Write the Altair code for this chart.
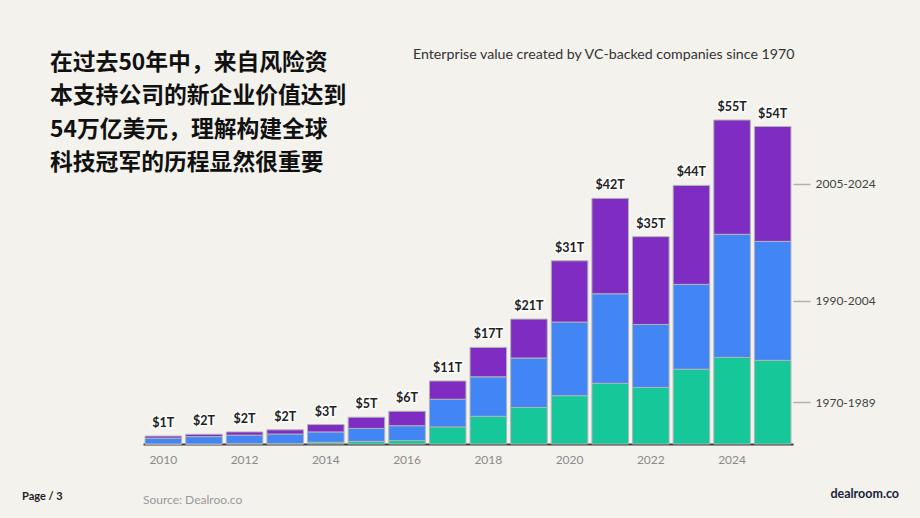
import altair as alt
import pandas as pd

years = [str(y) for y in range(2010, 2026)]
series = ["1970-1989", "1990-2004", "2005-2024"]
colors = ["#16c79a", "#4285f4", "#7e2cc1"]
v_1970_1989 = [0.0, 0.0, 0.05, 0.05, 0.3, 0.45, 0.6, 2.9, 4.7, 6.2, 8.2, 10.3, 9.6, 12.7, 14.7, 14.2]
v_1990_2004 = [1.0, 1.25, 1.45, 1.65, 1.75, 2.2, 2.5, 4.7, 6.7, 8.4, 12.5, 15.2, 10.7, 14.4, 20.9, 20.2]
v_2005_2024 = [0.35, 0.4, 0.55, 0.7, 1.25, 1.9, 2.45, 3.1, 5.0, 6.6, 10.4, 16.2, 14.9, 16.8, 19.4, 19.5]
total_labels = ["$1T", "$2T", "$2T", "$2T", "$3T", "$5T", "$6T", "$11T", "$17T", "$21T",
                "$31T", "$42T", "$35T", "$44T", "$55T", "$54T"]
x_tick_years = ["2010", "2012", "2014", "2016", "2018", "2020", "2022", "2024"]

title_cn = "在过去50年中，来自风险资\n本支持公司的新企业价值达到\n54万亿美元，理解构建全球\n科技冠军的历程显然很重要"
chart_title = "Enterprise value created by VC-backed companies since 1970"

vals = [v_1970_1989, v_1990_2004, v_2005_2024]
rows = []
for si, (s, arr) in enumerate(zip(series, vals)):
    for y, v in zip(years, arr):
        rows.append({"year": y, "series": s, "value": v, "ord": si})
df = pd.DataFrame(rows)

totals = [a + b + c for a, b, c in zip(*vals)]
df_tot = pd.DataFrame({"year": years, "total": totals, "label": total_labels})

# right-side series labels sit at the middle of each segment of the last bar
last = [arr[-1] for arr in vals]
mids = []
acc = 0.0
for v in last:
    mids.append(acc + v / 2)
    acc += v
bounds = [(mids[0] + mids[1]) / 2, (mids[1] + mids[2]) / 2]
label_expr = (f"datum.value < {bounds[0]} ? '{series[0]}' : "
              f"datum.value < {bounds[1]} ? '{series[1]}' : '{series[2]}'")

W, H = 650, 344
YMAX = 58.4

x_enc = alt.X("year:N", sort=years,
              scale=alt.Scale(paddingInner=0.1, paddingOuter=0.05),
              axis=alt.Axis(title=None, values=x_tick_years, labelAngle=0, ticks=False,
                            domainColor="#3a3a3a", domainWidth=2, labelColor="#8a8a8a",
                            labelFont="Lato", labelFontSize=12, labelPadding=10))
y_scale = alt.Scale(domain=[0, YMAX], nice=False)

bars = alt.Chart(df).mark_bar(stroke="#b4b4b4", strokeWidth=1).encode(
    x=x_enc,
    y=alt.Y("value:Q", stack="zero", scale=y_scale,
            axis=alt.Axis(orient="right", title=None, values=mids, labelExpr=label_expr,
                          grid=False, domain=False, tickSize=17, tickColor="#b0b0b0",
                          tickWidth=1.5, labelPadding=5, labelColor="#444444",
                          labelFont="Lato", labelFontSize=12)),
    color=alt.Color("series:N", scale=alt.Scale(domain=series, range=colors), legend=None),
    order=alt.Order("ord:Q", sort="ascending"),
)

base_tot = alt.Chart(df_tot).encode(
    x=alt.X("year:N", sort=years),
    y=alt.Y("total:Q", scale=y_scale),
    text="label:N",
)
halo = base_tot.mark_text(baseline="bottom", dy=-6, font="Lato", fontSize=12.5,
                          fontWeight="bold", stroke="white", strokeWidth=3,
                          strokeOpacity=0.9, fill="white")
labels = base_tot.mark_text(baseline="bottom", dy=-6, font="Lato", fontSize=12.5,
                            fontWeight="bold", color="#222222")

def note(txt, x, y, **kw):
    return alt.Chart(pd.DataFrame({"t": [txt]})).mark_text(**kw).encode(
        x=alt.value(x), y=alt.value(y), text="t:N")

left = 143
top = 100
cn = note(title_cn, 50 - left, 63 - top, align="left", baseline="middle",
          font="Noto Sans CJK SC", fontSize=22.8, fontWeight="bold", color="#111111",
          lineBreak="\n", lineHeight=33.4)
ttl = note(chart_title, 413 - left, 55 - top, align="left", baseline="middle",
           font="Lato", fontSize=14.2, color="#333333")
page = note("Page / 3", 22 - left, 497 - top, align="left", baseline="middle",
            font="Lato", fontSize=11, fontWeight="bold", color="#222222")
src = note("Source: Dealroo.co", 143 - left, 500 - top, align="left", baseline="middle",
           font="Lato", fontSize=12, color="#9a9a9a")
brand = note("dealroom.co", 899 - left, 494 - top, align="right", baseline="middle",
             font="Lato", fontSize=12.5, fontWeight="bold", color="#1a1f3a")

chart = alt.layer(bars, halo, labels, cn, ttl, page, src, brand).properties(
    width=W, height=H,
    autosize=alt.AutoSizeParams(type="none"),
    padding={"left": left, "top": top, "right": 920 - left - W, "bottom": 518 - top - H},
    background="#f3f2ec",
).configure_view(stroke=None)

chart.save("out.html", embed_options={"renderer": "svg", "actions": False})
